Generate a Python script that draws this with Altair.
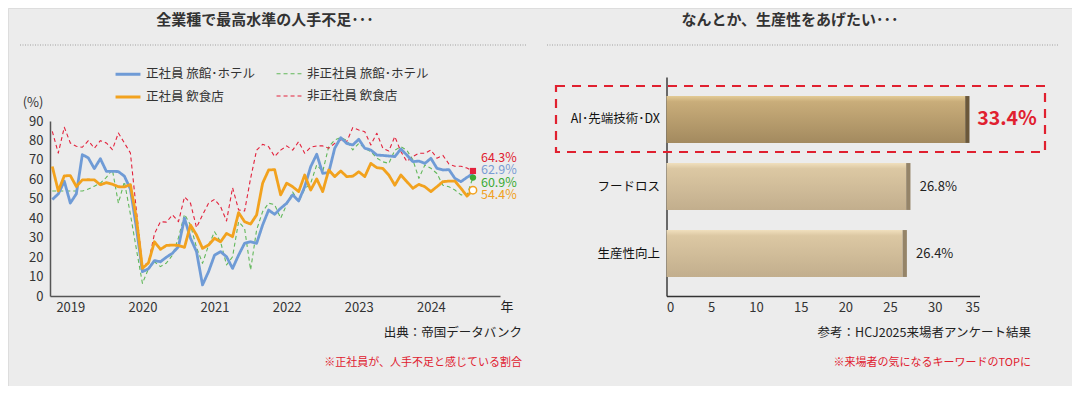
import altair as alt
import pandas as pd

FONT = "Noto Sans CJK JP"

# ---------------- data: left chart (monthly, Jan 2019 = 0) ----------------
months = list(range(71))
year_ticks = [3, 15, 27, 39, 51, 63]
y_ticks = [0, 10, 20, 30, 40, 50, 60, 70, 80, 90]

blue_hotel_regular = [49.6, 52.5, 59.0, 47.8, 52.5, 72.7, 71.0, 65.5, 70.6, 64.1, 64.1, 64.0, 61.6,
                      55.0, 35.0, 12.5, 14.0, 18.2, 17.6, 20.0, 22.0, 25.4, 40.0, 29.7, 22.8, 5.7,
                      12.5, 21.0, 22.8, 20.2, 14.2, 21.0, 27.1, 27.9, 27.1, 36.5, 44.2, 42.0, 45.1,
                      47.7, 52.0, 48.9, 56.2, 66.5, 72.9, 63.1, 63.5, 76.0, 81.4, 78.5, 77.7, 80.6,
                      76.0, 75.1, 72.5, 72.3, 72.0, 71.7, 75.6, 72.5, 69.1, 69.4, 68.2, 70.8, 65.7,
                      64.8, 65.0, 60.5, 58.8, 61.0, 62.9]
green_hotel_nonregular = [54, 54, 54, 54, 54, 54, 55, 56.5, 58, 61, 65, 47.7, 58.8, 42, 24, 6.5, 14,
                          17.6, 15.1, 17, 21, 30, 42, 36.5, 25, 16.8, 26, 33, 27.9, 16, 20.2, 38.2,
                          34.8, 13.4, 34, 43.4, 47.7, 47, 40, 47, 53.5, 48.5, 55, 58, 67.4, 64, 76.8,
                          80.2, 81.5, 80, 75.1, 78.5, 76, 74.3, 71, 69, 68.2, 75, 76.8, 75, 70, 60.5,
                          67.4, 65.7, 63, 57, 56.2, 54.5, 52, 52, 60.9]
orange_food_regular = [66.6, 54, 61.8, 61.9, 56.3, 59.7, 59.8, 59.7, 57.2, 58.3, 57.5, 56.2, 56.1,
                       57.3, 40, 14.2, 17, 27.9, 24, 26, 26.2, 26, 25, 36.5, 31.4, 24.5, 26.2, 29.7,
                       27.9, 32.2, 30.5, 42.9, 38.2, 37, 41.7, 58, 64.8, 65, 52, 58, 56.2, 53.7,
                       62.2, 54.5, 60.2, 53.7, 64.8, 61.4, 64.3, 61.4, 61.6, 63.9, 61.4, 68.2, 66,
                       65.6, 62.2, 57, 62.2, 58.8, 55.4, 57.4, 56.2, 53.7, 56.2, 58.8, 59.1, 59.1,
                       55.4, 51.4, 54.4]
red_food_nonregular = [84.7, 73.5, 86.8, 78.7, 77, 76.5, 79.9, 76, 79.9, 78.7, 75.3, 83.8, 78.7,
                       73.5, 44, 15.5, 17, 32, 38.2, 38, 41.7, 38.2, 51, 47.7, 35.2, 41.7, 47.7,
                       49.7, 46, 38.6, 55.7, 44.3, 43.7, 60.5, 75, 78, 76.8, 71.7, 75, 77.2, 75,
                       79.4, 73.4, 76.5, 77.2, 77.2, 76, 78.5, 80.2, 79.4, 86.6, 85.4, 84.5, 77.7,
                       83.7, 76, 74.6, 82, 74.3, 69.2, 71.7, 73.4, 73.4, 75.1, 70.9, 72.3, 67.9,
                       66.7, 66.7, 65.8, 64.3]

series_names = ["正社員 旅館･ホテル", "非正社員 旅館･ホテル", "正社員 飲食店", "非正社員 飲食店"]
series_colors = ["#6f9bd6", "#62b85a", "#f2a21e", "#e3223c"]
label_colors = ["#7a9cd4", "#3aaa35", "#f0a020", "#e0202f"]
series_widths = [2.8, 1.1, 2.8, 1.1]
series_dash = [[1, 0], [4, 3], [1, 0], [4, 3]]
series_values = [blue_hotel_regular, green_hotel_nonregular, orange_food_regular, red_food_nonregular]
end_labels = ["62.9%", "60.9%", "54.4%", "64.3%"]
draw_order = [1, 3, 0, 2]

# ---------------- data: right chart ----------------
bar_categories = ["AI･先端技術･DX", "フードロス", "生産性向上"]
bar_values = [33.4, 26.8, 26.4]
bar_labels = ["33.4%", "26.8%", "26.4%"]
bar_ticks = [0, 5, 10, 15, 20, 25, 30, 35]

title_left = "全業種で最高水準の人手不足･･･"
title_right = "なんとか、生産性をあげたい･･･"
source_left = "出典：帝国データバンク"
note_left = "※正社員が、人手不足と感じている割合"
source_right = "参考：HCJ2025来場者アンケート結果"
note_right = "※来場者の気になるキーワードのTOPに"

# ---------------- left: line chart ----------------
rows = []
for i in draw_order:
    for t, v in zip(months, series_values[i]):
        rows.append({"t": t, "v": v, "series": series_names[i]})
line_df = pd.DataFrame(rows)

xs = alt.Scale(domain=[-0.38, 74.5], range=[42, 492], nice=False, zero=False)
ys = alt.Scale(domain=[0, 90], range=[288, 113], nice=False)

legend_kw = dict(
    title=None, orient="none", legendX=106, legendY=52, columns=2, columnPadding=18,
    rowPadding=2, symbolType="stroke", symbolSize=620,
    labelFontSize=12.5, labelColor="#333", labelFont=FONT, padding=0, labelOffset=4,
    direction="horizontal",
)

lines = alt.Chart(line_df).mark_line(strokeJoin="round").encode(
    x=alt.X("t:Q", scale=xs, axis=alt.Axis(
        orient="bottom", offset=-90, values=year_ticks,
        labelExpr="toString(2019 + (datum.value - 3) / 12)",
        ticks=False, grid=False, title=None, domainColor="#555", domainWidth=1.5,
        labelFontSize=13, labelColor="#333", labelPadding=5, labelFont=FONT)),
    y=alt.Y("v:Q", scale=ys, axis=alt.Axis(
        orient="left", offset=-42, values=y_ticks, ticks=False, grid=False, title=None,
        domainColor="#555", domainWidth=1.5, labelFontSize=13, labelColor="#333",
        labelPadding=7, labelFont=FONT)),
    color=alt.Color("series:N", scale=alt.Scale(domain=series_names, range=series_colors),
                    legend=alt.Legend(**legend_kw)),
    strokeDash=alt.StrokeDash("series:N", scale=alt.Scale(domain=series_names, range=series_dash),
                              legend=alt.Legend(**legend_kw)),
    strokeWidth=alt.StrokeWidth("series:N", scale=alt.Scale(type="ordinal", domain=series_names,
                                                             range=series_widths),
                                legend=alt.Legend(**legend_kw)),
    detail="series:N",
)

end_df = pd.DataFrame({
    "t": [months[-1]] * 4,
    "v": [s[-1] for s in series_values],
    "series": series_names,
    "label": end_labels,
})

label_dy = [-4, 5, 5, -13]
line_layers = [lines]
line_layers.append(alt.Chart(end_df[end_df.series == series_names[3]]).mark_point(
    shape="square", filled=True, color=series_colors[3], size=38, opacity=1).encode(
    x=alt.X("t:Q", scale=xs), y=alt.Y("v:Q", scale=ys)))
line_layers.append(alt.Chart(end_df[end_df.series == series_names[1]]).mark_point(
    shape="circle", filled=True, color="#3aaa35", size=40, opacity=1).encode(
    x=alt.X("t:Q", scale=xs), y=alt.Y("v:Q", scale=ys)))
line_layers.append(alt.Chart(end_df[end_df.series == series_names[2]]).mark_point(
    shape="circle", filled=True, fill="white", stroke=series_colors[2], strokeWidth=1.5,
    size=55, opacity=1).encode(
    x=alt.X("t:Q", scale=xs), y=alt.Y("v:Q", scale=ys)))
for i in range(4):
    line_layers.append(alt.Chart(end_df[end_df.series == series_names[i]]).mark_text(
        align="left", baseline="middle", dx=8, dy=label_dy[i], fontSize=12.5,
        color=label_colors[i], font=FONT).encode(
        x=alt.X("t:Q", scale=xs), y=alt.Y("v:Q", scale=ys), text="label:N"))

line_group = alt.layer(*line_layers)

# ---------------- right: bar chart ----------------
bar_df = pd.DataFrame({"cat": bar_categories, "value": bar_values, "label": bar_labels})
bxs = alt.Scale(domain=[0, 35], range=[658.5, 971.5], nice=False)
bys = alt.Scale(domain=bar_categories, range=[69, 288], paddingInner=0.3, paddingOuter=0.284)

grad_top = alt.Gradient(gradient="linear", x1=0, x2=0, y1=0, y2=1, stops=[
    alt.GradientStop(offset=0, color="#e3cb95"),
    alt.GradientStop(offset=0.12, color="#c9ad7a"),
    alt.GradientStop(offset=1, color="#a38a5f")])
grad_other = alt.Gradient(gradient="linear", x1=0, x2=0, y1=0, y2=1, stops=[
    alt.GradientStop(offset=0, color="#f0dfbd"),
    alt.GradientStop(offset=0.12, color="#dcc8a3"),
    alt.GradientStop(offset=1, color="#c2ae8d")])

bar_base = alt.Chart(bar_df)
bar_main = bar_base.transform_filter(alt.datum.cat == bar_categories[0]).mark_bar(
    color=grad_top).encode(
    x=alt.X("value:Q", scale=bxs, axis=alt.Axis(
        orient="bottom", offset=-90, values=bar_ticks, ticks=False, grid=False, title=None,
        domainColor="#333", domainWidth=1.5, labelFontSize=13, labelColor="#333",
        labelPadding=5, labelFont=FONT)),
    y=alt.Y("cat:N", scale=bys, sort=bar_categories, axis=alt.Axis(
        orient="left", offset=-658.5, ticks=False, grid=False, title=None,
        domainColor="#222", domainWidth=1.3, labelFontSize=12.5, labelColor="#111",
        labelPadding=7, labelFont=FONT, labelLimit=200)),
)
bar_other = bar_base.transform_filter(alt.datum.cat != bar_categories[0]).mark_bar(
    color=grad_other).encode(
    x=alt.X("value:Q", scale=bxs), y=alt.Y("cat:N", scale=bys, sort=bar_categories))
bar_edge = bar_base.transform_calculate(edge="datum.value + 0.48").mark_bar().encode(
    x=alt.X("value:Q", scale=bxs), x2="edge:Q",
    y=alt.Y("cat:N", scale=bys, sort=bar_categories),
    color=alt.condition(alt.datum.cat == bar_categories[0], alt.value("#6b583a"), alt.value("#958468")))
bar_lab_main = bar_base.transform_filter(alt.datum.cat == bar_categories[0]).mark_text(
    align="left", baseline="middle", dx=12, fontSize=19.5, fontWeight="bold",
    color="#e0202f", font=FONT).encode(
    x=alt.X("value:Q", scale=bxs), y=alt.Y("cat:N", scale=bys, sort=bar_categories), text="label:N")
bar_lab_other = bar_base.transform_filter(alt.datum.cat != bar_categories[0]).mark_text(
    align="left", baseline="middle", dx=13.5, fontSize=13, color="#222", font=FONT).encode(
    x=alt.X("value:Q", scale=bxs), y=alt.Y("cat:N", scale=bys, sort=bar_categories), text="label:N")

bar_group = alt.layer(bar_main, bar_other, bar_edge, bar_lab_main, bar_lab_other)

# ---------------- annotations ----------------
one = pd.DataFrame({"a": [0]})


def txt(s, x, y, size, color="#333", align="center", weight="normal"):
    return alt.Chart(one).mark_text(text=s, align=align, baseline="middle", fontSize=size,
                                    color=color, fontWeight=weight, font=FONT).encode(
        x=alt.value(x), y=alt.value(y))


def dotted(x1, x2, y):
    return alt.Chart(one).mark_rule(color="#a0a0a0", strokeWidth=1, strokeDash=[1, 1.5]).encode(
        x=alt.value(x1), x2=alt.value(x2), y=alt.value(y))


box = alt.Chart(one).mark_rect(fill=None, stroke="#e0202f", strokeWidth=2.2,
                               strokeDash=[9, 7]).encode(
    x=alt.value(548), x2=alt.value(1037), y=alt.value(78), y2=alt.value(144))

annotations = [
    txt(title_left, 257, 12, 15, "#333", weight="bold"),
    txt(title_right, 782, 12, 15, "#333", weight="bold"),
    dotted(12, 519, 37),
    dotted(539, 1050, 37),
    txt("(%)", 25, 95, 13, "#333"),
    txt("年", 499, 299, 13, "#222"),
    txt(source_left, 514, 325, 12.5, "#222", align="right"),
    txt(note_left, 514, 355, 11, "#e0202f", align="right"),
    txt(source_right, 1023, 325, 12.5, "#222", align="right"),
    txt(note_right, 1023, 355, 11, "#e0202f", align="right"),
    box,
]

chart = alt.layer(line_group, bar_group, *annotations).resolve_scale(
    x="independent", y="independent"
).resolve_axis(x="independent", y="independent").properties(
    width=1064, height=378, autosize=alt.AutoSizeParams(type="none"), padding=0,
    background="#ececec"
).configure_view(stroke=None).configure(font=FONT)

chart.save("out.html", embed_options={"renderer": "svg", "actions": False})
